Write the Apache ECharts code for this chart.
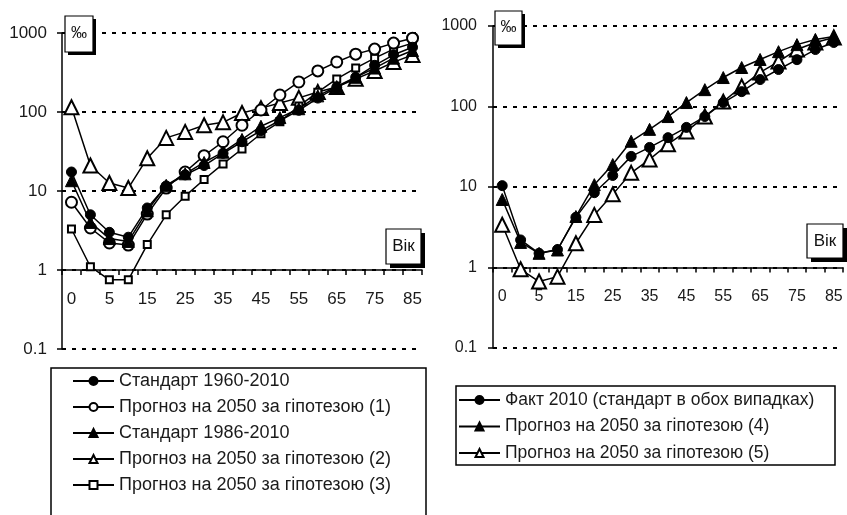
<!DOCTYPE html>
<html>
<head>
<meta charset="utf-8">
<script src="https://cdn.jsdelivr.net/npm/echarts@6/dist/echarts.min.js"></script>
<style>
html,body{margin:0;padding:0;background:#fff;}
#c{width:847px;height:515px;}
</style>
</head>
<body>
<div id="c"></div>
<script>
// ---- data ----
const ages = ['0','1','5','10','15','20','25','30','35','40','45','50','55','60','65','70','75','80','85'];
const yTickLabels = ['0.1','1','10','100','1000'];

// left chart
const std1960 = [17.4, 5.0, 3.0, 2.6, 6.1, 11.6, 16, 21, 30, 42, 58, 78, 105, 150, 205, 275, 390, 530, 660];
const hyp1    = [7.2, 3.4, 2.2, 2.07, 5.1, 10.9, 17.4, 28, 42, 68, 106, 164, 240, 331, 430, 540, 626, 745, 860];
const std1986 = [13.5, 4.0, 2.5, 2.3, 5.6, 11.8, 16.5, 23, 31, 45, 66, 85, 110, 160, 210, 275, 360, 480, 600];
const hyp2    = [115, 21, 12.6, 10.9, 26, 47, 56, 68, 74, 97, 112, 130, 151, 179, 207, 263, 330, 428, 527];
const hyp3    = [3.3, 1.1, 0.75, 0.75, 2.1, 5.0, 8.6, 14, 22, 34, 53, 75, 119, 178, 262, 360, 480, 626, 745];

// right chart
const fact2010 = [10.4, 2.2, 1.5, 1.67, 4.2, 8.5, 13.9, 24, 31, 41, 55, 75, 112, 153, 216, 288, 382, 510, 624];
const hyp4     = [7.0, 2.05, 1.5, 1.65, 4.3, 10.7, 19, 37, 52, 75, 112, 162, 229, 305, 384, 480, 587, 680, 740];
const hyp5     = [3.4, 0.95, 0.67, 0.77, 2.0, 4.5, 8.1, 15, 22, 34, 49, 75, 115, 177, 265, 362, 510, 624, 720];

const names = {
  std1960: 'Стандарт 1960-2010',
  hyp1: 'Прогноз на 2050 за гіпотезою (1)',
  std1986: 'Стандарт 1986-2010',
  hyp2: 'Прогноз на 2050 за гіпотезою (2)',
  hyp3: 'Прогноз на 2050 за гіпотезою (3)',
  fact2010: 'Факт 2010 (стандарт в обох випадках)',
  hyp4: 'Прогноз на 2050 за гіпотезою (4)',
  hyp5: 'Прогноз на 2050 за гіпотезою (5)'
};

const FONT = '"Liberation Sans", Arial, sans-serif';
const chart = echarts.init(document.getElementById('c'), null, {renderer: 'canvas'});

function yAxis(gridIndex, fs, margin) {
  return {
    type: 'log', logBase: 10, gridIndex: gridIndex, min: 0.1, max: 1000,
    axisLine: {show: true, lineStyle: {color: '#000', width: 1.5}},
    axisTick: {show: true, length: 5, lineStyle: {color: '#000', width: 1.5}},
    axisLabel: {
      color: '#1a1a1a', fontSize: fs, fontFamily: FONT, margin: margin,
      formatter: function (v) { return yTickLabels[Math.round(Math.log10(v)) + 1]; }
    },
    splitLine: {show: true, lineStyle: {color: '#000', width: 2, type: [4, 6]}}
  };
}
function xAxis(gridIndex, offset, fs) {
  return {
    type: 'category', gridIndex: gridIndex, data: ages, boundaryGap: true, offset: offset,
    axisLine: {show: true, onZero: false, lineStyle: {color: '#000', width: 1.5}},
    axisTick: {show: true, interval: 0, length: 5, lineStyle: {color: '#000', width: 1.5}},
    axisLabel: {interval: 1, color: '#1a1a1a', fontSize: fs, fontFamily: FONT, margin: 21},
    splitLine: {show: false}
  };
}
function ser(name, data, idx, symbol, size, empty) {
  return {
    name: name, type: 'line', xAxisIndex: idx, yAxisIndex: idx, data: data,
    symbol: symbol, symbolSize: size, showSymbol: true, showAllSymbol: true,
    lineStyle: {color: '#000', width: 1.5},
    itemStyle: {color: '#000', borderColor: '#000', borderWidth: empty ? 1.5 : 1},
    emphasis: {disabled: true}, animation: false, z: 3
  };
}
function box(x, y, w, h, text, fs, sh) {
  return {
    type: 'group', z: 100, children: [
      {type: 'rect', shape: {x: x + sh, y: y + sh, width: w, height: h}, style: {fill: '#000'}, z: 100},
      {type: 'rect', shape: {x: x, y: y, width: w, height: h}, style: {fill: '#fff', stroke: '#000', lineWidth: 1.2}, z: 101},
      {type: 'text', x: x + w / 2, y: y + h / 2, z: 102,
       style: {text: text, fontSize: fs, fontFamily: FONT, fill: '#111', align: 'center', verticalAlign: 'middle'}}
    ]
  };
}

const option = {
  backgroundColor: '#fff',
  animation: false,
  textStyle: {fontFamily: FONT},
  grid: [
    {left: 62, top: 33, width: 360, height: 316, outerBoundsMode: 'none', containLabel: false},
    {left: 493, top: 26, width: 350, height: 322, outerBoundsMode: 'none', containLabel: false}
  ],
  xAxis: [xAxis(0, -79, 17), xAxis(1, -80.5, 16)],
  yAxis: [yAxis(0, 17, 15), yAxis(1, 16, 16)],
  legend: [
    {
      orient: 'vertical', left: 72, top: 372, padding: 0, itemWidth: 41, itemHeight: 10, itemGap: 8,
      textStyle: {fontSize: 18, fontFamily: FONT, color: '#1a1a1a'},
      data: [names.std1960, names.hyp1, names.std1986, names.hyp2, names.hyp3],
      selectedMode: false
    },
    {
      orient: 'vertical', left: 458, top: 391, padding: 0, itemWidth: 41, itemHeight: 10, itemGap: 8.5,
      textStyle: {fontSize: 17.5, fontFamily: FONT, color: '#1a1a1a'},
      data: [names.fact2010, names.hyp4, names.hyp5],
      selectedMode: false
    }
  ],
  graphic: [
    {type: 'rect', shape: {x: 51, y: 368, width: 375, height: 170}, style: {fill: 'none', stroke: '#000', lineWidth: 1.5}, z: 50},
    {type: 'rect', shape: {x: 456, y: 386, width: 379, height: 79}, style: {fill: 'none', stroke: '#000', lineWidth: 1.5}, z: 50},
    box(65, 16, 28, 36, '‰', 16, 3),
    box(495, 11, 27, 34, '‰', 16, 3),
    box(386, 229, 35, 35, 'Вік', 17, 4),
    box(807, 224, 36, 34, 'Вік', 17, 4)
  ],
  series: [
    ser(names.hyp2, hyp2, 0, 'emptyTriangle', 14, true),
    ser(names.hyp3, hyp3, 0, 'emptyRect', 7, true),
    ser(names.hyp1, hyp1, 0, 'emptyCircle', 11, true),
    ser(names.std1986, std1986, 0, 'triangle', 12, false),
    ser(names.std1960, std1960, 0, 'circle', 10, false),
    ser(names.hyp5, hyp5, 1, 'emptyTriangle', 14, true),
    ser(names.hyp4, hyp4, 1, 'triangle', 12, false),
    ser(names.fact2010, fact2010, 1, 'circle', 10, false)
  ]
};
chart.setOption(option);
</script>
</body>
</html>
